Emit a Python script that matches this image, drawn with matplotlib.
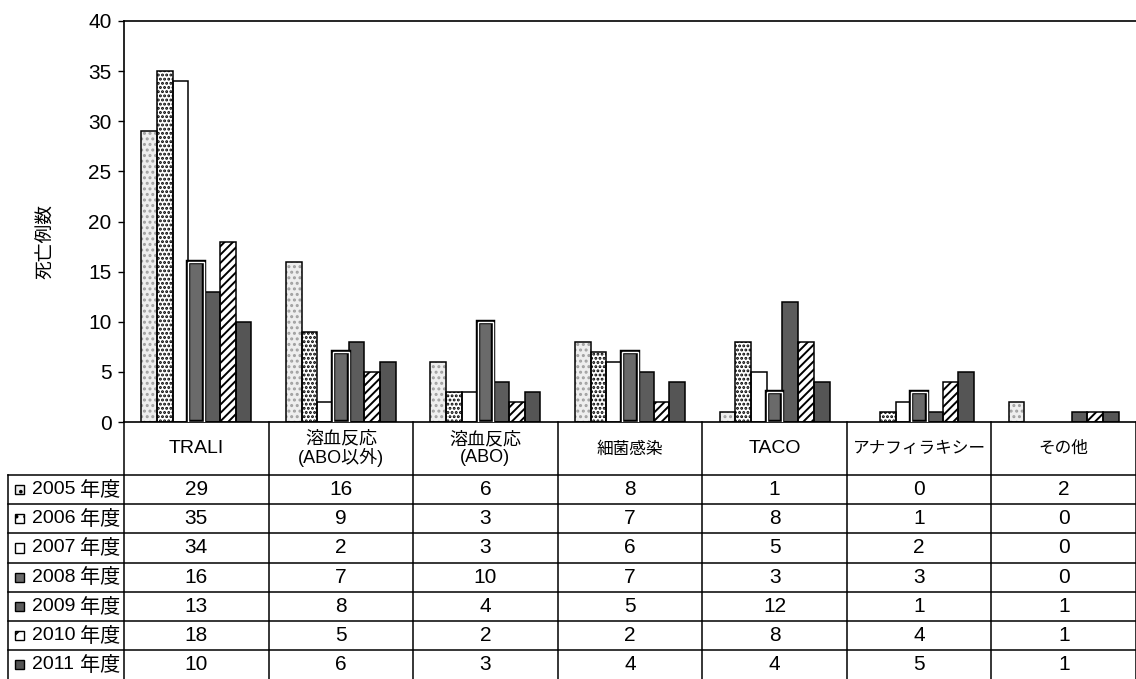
import numpy as np
from matplotlib import pyplot as plt
from matplotlib.patches import Rectangle

plt.rcParams['font.family'] = ['Liberation Sans', 'Noto Sans CJK JP']
plt.rcParams['hatch.linewidth'] = 1.4

categories = ['TRALI', '溶血反応\n(ABO以外)', '溶血反応\n(ABO)', '細菌感染',
              'TACO', 'アナフィラキシー', 'その他']
years = ['2005', '2006', '2007', '2008', '2009', '2010', '2011']

v2005 = [29, 16, 6, 8, 1, 0, 2]
v2006 = [35, 9, 3, 7, 8, 1, 0]
v2007 = [34, 2, 3, 6, 5, 2, 0]
v2008 = [16, 7, 10, 7, 3, 3, 0]
v2009 = [13, 8, 4, 5, 12, 1, 1]
v2010 = [18, 5, 2, 2, 8, 4, 1]
v2011 = [10, 6, 3, 4, 4, 5, 1]
series = [v2005, v2006, v2007, v2008, v2009, v2010, v2011]

# fill, hatch, hatch colour, inner white frame
styles = [
    ('#eeeeee', '...', '#a0a0a0', False),
    ('white', '....', 'black', False),
    ('white', None, 'black', False),
    ('#6a6a6a', None, 'black', True),
    ('#5c5c5c', None, 'black', False),
    ('white', '////', 'black', False),
    ('#555555', None, 'black', False),
]

W, H = 1136, 679
fig = plt.figure(figsize=(W / 100, H / 100), dpi=100)
ax = fig.add_axes([124 / W, (H - 422) / H, 1012 / W, 401 / H])

x = np.arange(len(categories))
n = len(series)
bw = 0.76 / n


def draw_bars(target, xs, heights, width, style):
    fc, hatch, hc, inner = style
    xs = np.asarray(xs)
    heights = np.asarray(heights)
    keep = heights > 0
    xs, heights = xs[keep], heights[keep]
    target.bar(xs, heights, width, color=fc, hatch=hatch,
               edgecolor=hc, linewidth=0, zorder=2)
    if inner:
        target.bar(xs, heights, width, fill=False,
                   edgecolor='black', linewidth=3.2, zorder=3)
        target.bar(xs, heights, width, fill=False,
                   edgecolor='white', linewidth=1.0, zorder=4)
    else:
        target.bar(xs, heights, width, fill=False,
                   edgecolor='black', linewidth=1.1, zorder=3)


for i, vals in enumerate(series):
    draw_bars(ax, x + (i - (n - 1) / 2) * bw, vals, bw, styles[i])

ax.set_xlim(-0.5, len(categories) - 0.5)
ax.set_ylim(0, 40)
ax.set_yticks(range(0, 41, 5))
ax.set_xticks([])
ax.tick_params(axis='y', length=4, width=1, labelsize=15, pad=5)
ax.spines['right'].set_visible(False)
for s in ['left', 'top', 'bottom']:
    ax.spines[s].set_linewidth(1.2)
fig.text(47 / W, 1 - 241 / H, '死亡例数', rotation=90, ha='center',
         va='center', fontsize=13.5)

# data table under the axis
unit = 1012 / len(categories)
tab = fig.add_axes([0, 0, 1, (H - 422) / H])
tab.set_xlim(-0.5 - 124 / unit, len(categories) - 0.5)
head = 53 / 29
tab.set_ylim(head + n, 0)
tab.axis('off')

left = -0.5 - 116 / unit
lw = 1.1
for k in range(len(categories) + 1):
    tab.plot([k - 0.5, k - 0.5], [0, head + n], color='black', lw=lw,
             clip_on=False)
tab.plot([left, left], [head, head + n], color='black', lw=lw, clip_on=False)
for r in range(n):
    tab.plot([left, len(categories) - 0.5], [head + r, head + r],
             color='black', lw=lw, clip_on=False)

for j, cat in enumerate(categories):
    if cat.isascii():
        fs = 14
    elif 'ABO' in cat:
        fs = 13
    else:
        fs = 12
    tab.text(j, head / 2, cat, ha='center', va='center', fontsize=fs,
             linespacing=1.0)

for r, (yr, vals) in enumerate(zip(years, series)):
    yc = head + r + 0.5
    for j, v in enumerate(vals):
        tab.text(j, yc, str(v), ha='center', va='center', fontsize=15)
    kw = 9 / unit
    kh = 9 / 29
    kx = left + 7 / unit
    fc, hatch, hc, inner = styles[r]
    if hatch:
        hatch = hatch[:2]
    tab.add_patch(Rectangle((kx, yc - kh / 2), kw, kh, facecolor=fc,
                            hatch=hatch, edgecolor='black', lw=1.0))
    tab.text(left + 24 / unit, yc, yr, ha='left', va='center',
             fontsize=14)
    tab.text(-0.5 - 4 / unit, yc + 0.03, '年度', ha='right', va='center',
             fontsize=14.5)

fig.savefig('out.png', dpi=100)
